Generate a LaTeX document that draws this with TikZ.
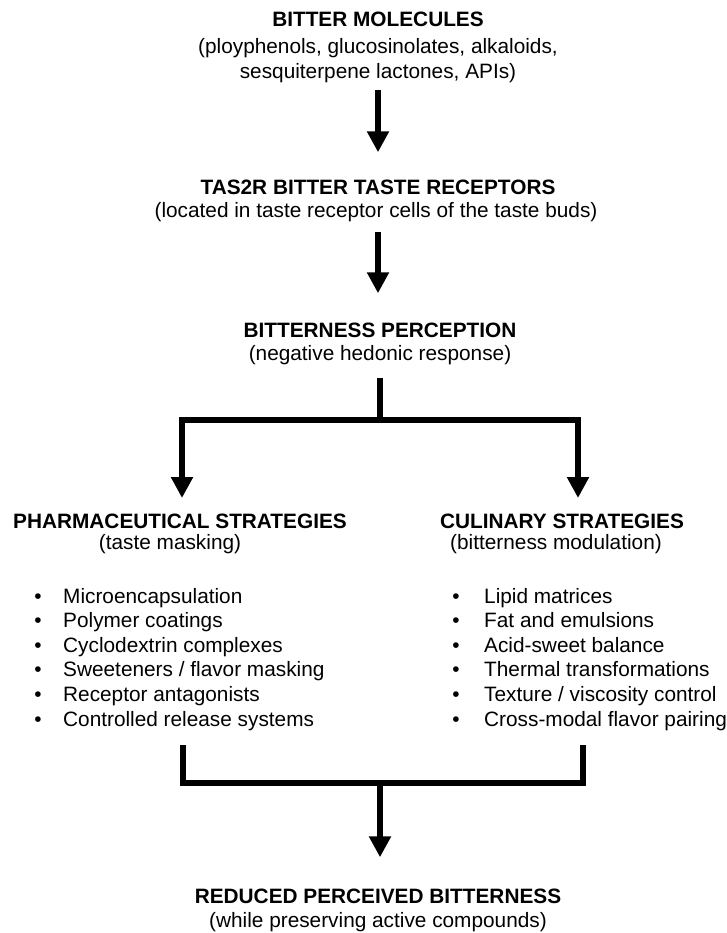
\documentclass[tikz,border=0pt]{standalone}
\usepackage{fontspec}
\setmainfont{Liberation Sans}
\usetikzlibrary{arrows.meta}

\tikzset{
    bigtip/.tip={Triangle[width=21pt,length=21pt]},
    head/.style={font=\fontsize{20.8}{24}\selectfont\bfseries, inner sep=0pt, anchor=base},
    sub/.style={font=\fontsize{20.8}{24}\selectfont, inner sep=0pt, anchor=base},
    item/.style={font=\fontsize{20.8}{24}\selectfont, inner sep=0pt, anchor=base west},
    dot/.style={font=\fontsize{20.8}{24}\selectfont, inner sep=0pt, anchor=base},
    bar/.style={line width=5.5pt},
    arr/.style={bar, -bigtip},
}

\begin{document}
\begin{tikzpicture}[x=1pt,y=-1pt]
        \useasboundingbox (0,0) rectangle (727,933);

        \node[head] (mol) at (378,27) {BITTER MOLECULES};
        \node[sub] (mol1) at (378,54) {(ployphenols, glucosinolates, alkaloids,};
        \node[sub] (mol2) at (378,79) {sesquiterpene lactones, APIs)};

        \node[head] (rec) at (378,195) {TAS2R BITTER TASTE RECEPTORS};
        \node[sub] (rec1) at (376,218) {(located in taste receptor cells of the taste buds)};

        \node[head] (perc) at (380,337) {BITTERNESS PERCEPTION};
        \node[sub] (perc1) at (380,360) {(negative hedonic response)};

        \node[head] (ph) at (180,528) {PHARMACEUTICAL STRATEGIES};
        \node[sub] (ph0) at (170,549) {(taste masking)};
        \node[head] (cu) at (562,528) {CULINARY STRATEGIES};
        \node[sub] (cu0) at (556,549) {(bitterness modulation)};

        \foreach \txt [count=\i] in {Microencapsulation, Polymer coatings, Cyclodextrin complexes, Sweeteners / flavor masking, Receptor antagonists, Controlled release systems}
        {
            \node[dot] (phb\i) at (38,{603+24.6*(\i-1)}) {\textbullet};
            \node[item] (ph\i) at (63,{603+24.6*(\i-1)}) {\txt};
        }
        \foreach \txt [count=\i] in {Lipid matrices, Fat and emulsions, Acid-sweet balance, Thermal transformations, Texture / viscosity control, Cross-modal flavor pairing}
        {
            \node[dot] (cub\i) at (456,{603+24.6*(\i-1)}) {\textbullet};
            \node[item] (cu\i) at (484,{603+24.6*(\i-1)}) {\txt};
        }

        \node[head] (out) at (378,903) {REDUCED PERCEIVED BITTERNESS};
        \node[sub] (out1) at (378,927) {(while preserving active compounds)};

        % straight arrows
        \draw[arr, shorten <=6.7pt, shorten >=28pt] (mol2.south) -- (rec.north);
        \draw[arr, shorten <=9.7pt, shorten >=29pt] (rec1.south -| rec.north) -- (rec.north |- perc.north);

        % fork
        \coordinate (fork) at (380,420);
        \coordinate (tipL) at (182,498);
        \coordinate (tipR) at (578,498);
        \draw[bar, shorten <=13pt] (perc1.south -| fork) -- (fork);
        \draw[bar, bigtip-bigtip] (tipL) |- (fork) -| (tipR);

        % merge
        \coordinate (merge) at (380,783);
        \coordinate (topL) at (183,745);
        \coordinate (topR) at (583,745);
        \draw[bar] (topL) |- (merge) -| (topR);
        \draw[arr, shorten >=31pt] (merge) -- (merge |- out.north);
\end{tikzpicture}
\end{document}
